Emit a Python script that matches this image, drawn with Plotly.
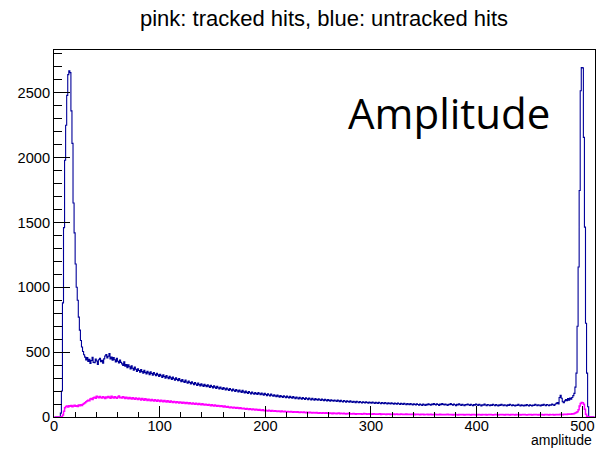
import numpy as np
import plotly.graph_objects as go

# Amplitude histogram: 512 unit-width bins from 0 to 512
bin_edges = np.arange(0, 513)

# untracked hits (blue), 16 bins per row
untracked_counts = [
    0, 0, 0, 0, 0, 0, 30, 200, 880, 1460, 1980, 2250, 2480, 2640, 2669, 2655,
    2360, 2110, 1650, 1420, 1180, 1000, 900, 770, 670, 590, 540, 505, 480, 462, 440, 458,
    428, 445, 412, 436, 460, 421, 418, 447, 432, 405, 441, 452, 426, 437, 415, 448,
    470, 482, 455, 468, 490, 448, 462, 437, 458, 441, 425, 452, 430, 416, 440, 421,
    410, 398, 425, 392, 405, 380, 402, 388, 371, 394, 376, 360, 385, 368, 352, 372,
    358, 345, 366, 350, 338, 361, 344, 332, 352, 340, 326, 348, 335, 322, 342, 330,
    318, 336, 325, 312, 330, 318, 305, 326, 312, 300, 320, 306, 296, 314, 302, 290,
    308, 295, 284, 302, 290, 279, 296, 283, 272, 289, 276, 266, 284, 270, 261, 278,
    266, 255, 272, 260, 249, 265, 254, 244, 262, 250, 240, 256, 246, 236, 252, 242,
    233, 248, 238, 228, 244, 234, 224, 240, 230, 220, 236, 226, 216, 231, 222, 212,
    228, 218, 209, 224, 214, 205, 220, 210, 201, 216, 206, 197, 212, 202, 194, 208,
    198, 190, 205, 194, 186, 200, 190, 182, 196, 187, 178, 192, 183, 175, 189, 180,
    174, 188, 179, 171, 185, 176, 168, 182, 173, 165, 179, 170, 162, 176, 168, 160,
    171, 163, 156, 169, 161, 153, 166, 158, 151, 164, 156, 149, 161, 153, 147, 159,
    151, 145, 157, 149, 142, 154, 147, 140, 152, 144, 138, 150, 143, 136, 148, 141,
    134, 146, 139, 132, 144, 137, 130, 142, 135, 129, 140, 133, 127, 139, 132, 126,
    137, 130, 124, 135, 128, 122, 133, 127, 121, 131, 125, 119, 130, 124, 118, 128,
    122, 117, 127, 121, 115, 125, 119, 114, 124, 118, 113, 122, 117, 111, 121, 116,
    110, 120, 114, 109, 118, 113, 108, 117, 112, 107, 116, 111, 106, 115, 110, 105,
    114, 109, 104, 113, 108, 103, 112, 107, 102, 111, 106, 101, 110, 105, 100, 109,
    104, 99, 108, 103, 98, 107, 102, 97, 106, 101, 96, 105, 100, 95, 104, 99,
    94, 103, 98, 93, 102, 97, 92, 101, 96, 91, 100, 95, 90, 99, 94, 89,
    98, 93, 102, 96, 91, 100, 95, 104, 97, 92, 101, 96, 90, 99, 94, 103,
    97, 92, 100, 95, 89, 98, 94, 103, 96, 91, 99, 94, 88, 97, 93, 101,
    95, 90, 98, 93, 87, 96, 92, 100, 94, 89, 97, 93, 88, 96, 91, 99,
    94, 89, 97, 92, 86, 95, 91, 99, 93, 88, 96, 92, 87, 95, 90, 98,
    93, 88, 96, 91, 86, 94, 90, 98, 92, 87, 95, 91, 86, 94, 89, 97,
    92, 87, 95, 90, 85, 93, 89, 97, 91, 86, 94, 90, 85, 93, 88, 96,
    91, 86, 94, 90, 85, 93, 89, 97, 92, 87, 95, 91, 86, 94, 90, 98,
    93, 88, 96, 92, 87, 95, 91, 100, 94, 89, 98, 105, 112, 100, 150, 168,
    145, 118, 110, 124, 135, 126, 142, 130, 146, 137, 150, 165, 182, 230, 338, 700,
    1156, 1746, 2515, 2695, 2692, 2156, 1464, 723, 338, 79, 0, 0, 0, 0, 0, 0,
]

# tracked hits (pink), 16 bins per row
tracked_counts = [
    0, 0, 0, 0, 0, 0, 0, 2, 15, 45, 72, 80, 84, 78, 86, 82,
    88, 79, 85, 90, 83, 87, 80, 92, 86, 95, 89, 98, 104, 110, 118, 124,
    130, 126, 138, 142, 135, 148, 152, 144, 160, 155, 149, 158, 151, 146, 156, 150,
    143, 154, 148, 158, 152, 145, 160, 153, 147, 157, 150, 144, 155, 162, 148, 153,
    146, 156, 150, 143, 152, 147, 140, 151, 145, 138, 149, 143, 136, 147, 141, 134,
    144, 138, 132, 142, 136, 130, 140, 134, 128, 137, 131, 126, 135, 129, 124, 133,
    127, 122, 131, 125, 120, 129, 123, 118, 127, 121, 116, 125, 119, 114, 123, 117,
    112, 120, 115, 110, 118, 113, 108, 116, 111, 106, 114, 109, 104, 112, 107, 102,
    110, 105, 100, 108, 103, 98, 106, 101, 96, 104, 99, 94, 102, 97, 92, 99,
    95, 90, 97, 92, 87, 94, 89, 85, 92, 87, 83, 89, 85, 80, 87, 82,
    78, 84, 79, 75, 81, 76, 72, 78, 74, 70, 76, 71, 68, 73, 69, 65,
    71, 66, 63, 68, 64, 60, 66, 62, 58, 64, 59, 56, 61, 57, 54, 59,
    55, 52, 57, 53, 50, 55, 51, 48, 53, 49, 47, 52, 48, 45, 50, 47,
    44, 49, 45, 43, 47, 44, 41, 46, 42, 40, 45, 41, 39, 43, 40, 38,
    42, 39, 37, 41, 38, 36, 40, 37, 35, 39, 36, 34, 38, 35, 33, 37,
    34, 32, 36, 33, 31, 35, 32, 30, 34, 31, 29, 33, 30, 28, 32, 30,
    29, 32, 28, 31, 27, 30, 28, 26, 30, 27, 29, 25, 28, 30, 26, 28,
    27, 25, 28, 26, 24, 27, 25, 28, 24, 26, 23, 27, 25, 22, 26, 24,
    25, 23, 26, 22, 24, 27, 23, 25, 21, 24, 26, 22, 24, 21, 25, 23,
    22, 24, 21, 23, 25, 20, 23, 21, 24, 22, 20, 23, 21, 24, 20, 22,
    21, 23, 20, 22, 24, 19, 22, 20, 23, 21, 19, 22, 20, 23, 19, 21,
    20, 22, 19, 21, 23, 18, 21, 19, 22, 20, 18, 21, 19, 22, 18, 20,
    19, 21, 18, 20, 22, 17, 20, 18, 21, 19, 17, 20, 18, 21, 17, 19,
    18, 20, 17, 19, 21, 17, 19, 18, 20, 16, 19, 17, 20, 18, 16, 19,
    18, 20, 17, 19, 16, 18, 20, 17, 19, 18, 16, 19, 17, 20, 18, 16,
    19, 17, 20, 18, 16, 19, 17, 18, 20, 16, 18, 19, 17, 20, 18, 16,
    18, 20, 17, 19, 16, 18, 20, 17, 19, 18, 16, 19, 17, 20, 18, 16,
    19, 17, 20, 18, 16, 19, 17, 18, 20, 16, 18, 19, 17, 20, 18, 16,
    18, 20, 17, 19, 16, 18, 20, 17, 19, 18, 16, 19, 17, 20, 18, 16,
    19, 17, 20, 18, 16, 19, 17, 18, 20, 16, 18, 19, 17, 20, 18, 22,
    20, 18, 21, 19, 22, 20, 23, 21, 24, 22, 25, 24, 27, 30, 35, 40,
    55, 85, 105, 112, 110, 98, 60, 22, 6, 1, 0, 0, 0, 0, 0, 0,
]

y_ticks = [0, 500, 1000, 1500, 2000, 2500]
x_ticks = [0, 100, 200, 300, 400, 500]

W, H = 596, 451
ML, MR, MT, MB = 54, 1, 50, 34
PW, PH = W - ML - MR, H - MT - MB


def px_x(p):
    return (p - ML) / PW


def px_y(p):
    return (H - MB - p) / PH


centers = (bin_edges[:-1] + bin_edges[1:]) / 2
label_font = dict(family="Liberation Sans, Arial, Helvetica", size=14.6, color="black")

fig = go.Figure()
fig.add_trace(go.Scatter(
    x=centers, y=untracked_counts, mode="lines", line_shape="hvh",
    line=dict(color="#000099", width=1.1), showlegend=False, hoverinfo="skip",
))
fig.add_trace(go.Scatter(
    x=centers, y=tracked_counts, mode="lines", line_shape="hvh",
    line=dict(color="#ff00ff", width=1.5), showlegend=False, hoverinfo="skip",
))

ymax = 1.05 * max(untracked_counts)

fig.update_layout(
    width=W, height=H,
    margin=dict(l=ML, r=MR, t=MT, b=MB, pad=0),
    paper_bgcolor="white", plot_bgcolor="white",
    xaxis=dict(
        range=[bin_edges[0], bin_edges[-1]], tickvals=x_ticks, ticktext=[str(v) for v in x_ticks],
        ticks="inside", ticklen=11, tickwidth=1, tickcolor="black", ticklabelstandoff=-5,
        minor=dict(dtick=20, ticks="inside", ticklen=5.5, tickwidth=1, tickcolor="black", showgrid=False),
        showline=True, linecolor="black", linewidth=1, mirror=True,
        showgrid=False, zeroline=False, tickfont=label_font,
    ),
    yaxis=dict(
        range=[0, ymax], tickvals=y_ticks, ticktext=[str(v) for v in y_ticks],
        ticks="inside", ticklen=16, tickwidth=1, tickcolor="black",
        minor=dict(dtick=100, ticks="inside", ticklen=8, tickwidth=1, tickcolor="black", showgrid=False),
        showline=True, linecolor="black", linewidth=1, mirror=True,
        showgrid=False, zeroline=False, tickfont=label_font,
    ),
    annotations=[
        dict(text="pink: tracked hits, blue: untracked hits", xref="paper", yref="paper",
             x=px_x(138), y=px_y(19), xanchor="left", yanchor="middle", showarrow=False,
             font=dict(family="Liberation Sans, Arial, Helvetica", size=22, color="black")),
        dict(text="Amplitude", xref="paper", yref="paper",
             x=px_x(346), y=px_y(112), xanchor="left", yanchor="middle", showarrow=False,
             font=dict(family="Open Sans, Noto Sans", size=42, color="black")),
        dict(text="amplitude", xref="paper", yref="paper",
             x=px_x(594), y=px_y(440), xanchor="right", yanchor="middle", showarrow=False,
             font=dict(family="Liberation Sans, Arial, Helvetica", size=14, color="black")),
    ],
)

fig.write_html("out.html")
